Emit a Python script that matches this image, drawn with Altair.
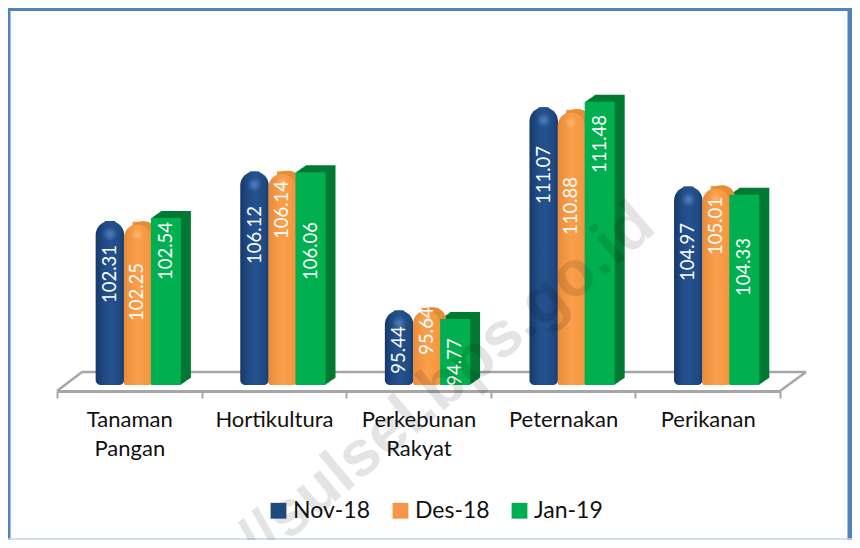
import altair as alt
import pandas as pd

categories = ["Tanaman Pangan", "Hortikultura", "Perkebunan Rakyat", "Peternakan", "Perikanan"]
series_names = ["Nov-18", "Des-18", "Jan-19"]
nov_18 = [102.31, 106.12, 95.44, 111.07, 104.97]
des_18 = [102.25, 106.14, 95.64, 110.88, 105.01]
jan_19 = [102.54, 106.06, 94.77, 111.48, 104.33]
# level on the value axis at which each rotated label is centred in the picture
nov_label_level = [98.24, 101.24, 92.39, 105.85, 99.93]
des_label_level = [96.85, 103.16, 93.85, 103.47, 101.93]
jan_label_level = [100.01, 100.01, 91.47, 108.24, 98.78]

FONT = "Lato"
BLUE, ORANGE, GREEN = "#1f497d", "#f79646", "#00b050"
FRAME = "#5282bd"
FLOOR = "#a6a6a6"
BASE = 89.7
W, H = 844, 532


def table(values, levels):
    return pd.DataFrame({"category": categories, "value": values, "level": levels})


nov_df = table(nov_18, nov_label_level)
des_df = table(des_18, des_label_level)
jan_df = table(jan_19, jan_label_level)

x_enc = alt.X(
    "category:N",
    sort=categories,
    title=None,
    scale=alt.Scale(domain=categories, range=[49, 772], paddingInner=0, paddingOuter=0),
    axis=alt.Axis(
        labelExpr="split(datum.label, ' ')",
        labelAngle=0,
        labelFont=FONT,
        labelFontSize=22,
        labelColor="#111111",
        labelPadding=11,
        labelLineHeight=29,
        labelBaseline="top",
        tickBand="extent",
        tickSize=7,
        tickWidth=2,
        tickColor=FLOOR,
        domainColor=FLOOR,
        domainWidth=3,
        grid=False,
    ),
)
y_scale = alt.Scale(domain=[BASE, 118.7], range=[377, 0], zero=False)
y_enc = alt.Y("value:Q", title=None, axis=None, scale=y_scale)
y_label = alt.Y("level:Q", title=None, axis=None, scale=y_scale)
y2_enc = alt.Y2(datum=BASE)


def solid(df, name, dx, width=10):
    return alt.Chart(df).transform_calculate(series=f"'{name}'").mark_bar(width=width, xOffset=dx).encode(
        x=x_enc,
        y=y_enc,
        y2=y2_enc,
        color=alt.Color(
            "series:N",
            title=None,
            sort=series_names,
            scale=alt.Scale(domain=series_names, range=[BLUE, ORANGE, GREEN]),
            legend=alt.Legend(
                orient="none",
                legendX=259,
                legendY=491,
                direction="horizontal",
                symbolType="square",
                symbolSize=250,
                symbolStrokeWidth=0,
                labelFont=FONT,
                labelFontSize=23,
                labelColor="#111111",
                columnPadding=18,
                labelOffset=3,
                padding=0,
            ),
        ),
    )


def bar(df, dx, width, fill, dy=0, dy2=None, **kw):
    return alt.Chart(df).mark_bar(
        width=width, xOffset=dx, yOffset=dy, y2Offset=dy if dy2 is None else dy2, color=fill, **kw
    ).encode(x=x_enc, y=y_enc, y2=y2_enc)


def glow(df, dx, inner, size):
    gradient = alt.Gradient(
        gradient="radial",
        stops=[
            alt.GradientStop(color=inner, offset=0),
            alt.GradientStop(color=inner + "00", offset=1),
        ],
    )
    return alt.Chart(df).mark_circle(size=size, xOffset=dx, yOffset=13, color=gradient, opacity=1).encode(x=x_enc, y=y_enc)


def labels(df, dx):
    return alt.Chart(df).mark_text(
        angle=270, xOffset=dx, align="center", baseline="middle", color="white", font=FONT, fontSize=18.5
    ).encode(x=x_enc, y=y_label, text=alt.Text("value:Q", format=".2f"))


def line(x, y, x2=None, y2=None, color=FLOOR, width=2.5):
    enc = {"x": alt.value(x), "y": alt.value(y)}
    if x2 is not None:
        enc["x2"] = alt.value(x2)
    if y2 is not None:
        enc["y2"] = alt.value(y2)
    return alt.Chart(pd.DataFrame({"k": [0]})).mark_rule(color=color, strokeWidth=width).encode(**enc)


DX_B, DX_O, DX_G = -19.4, 8.1, 36.6
W_B, W_O, W_G = 28.5, 27, 30

blue_grad = alt.Gradient(
    gradient="linear", x1=0, x2=1, y1=0, y2=0,
    stops=[
        alt.GradientStop(color="#17386a", offset=0),
        alt.GradientStop(color="#214c86", offset=0.3),
        alt.GradientStop(color="#24528f", offset=0.55),
        alt.GradientStop(color="#1f4a82", offset=0.85),
        alt.GradientStop(color="#183a6c", offset=1),
    ],
)
orange_grad = alt.Gradient(
    gradient="linear", x1=0, x2=1, y1=0, y2=0,
    stops=[
        alt.GradientStop(color="#e98c3a", offset=0),
        alt.GradientStop(color="#fa9f4b", offset=0.5),
        alt.GradientStop(color="#f4963f", offset=1),
    ],
)

layers = [
    line(0, 0, x2=W, color=FRAME, width=6),
    line(0, 0, y2=H, color=FRAME, width=5),
    line(W - 2, 0, y2=H, color=FRAME, width=5),
    line(0, H - 1, x2=W, color="#c6d6ea", width=1.5),
    line(74, 364, x2=798),
    line(49, 383, x2=74, y2=364),
    line(772, 383, x2=798, y2=364),
    solid(nov_df, series_names[0], DX_B),
    solid(des_df, series_names[1], DX_O),
    solid(jan_df, series_names[2], DX_G),
]
for k in range(10, 0, -1):
    layers.append(bar(jan_df, DX_G + k, W_G, "#007a33", dy=-0.7 * k))
for k in range(6, 0, -1):
    layers.append(
        bar(des_df, DX_O + k, W_O, "#e88b37", dy=-0.6 * k + 3, dy2=-0.6 * k,
            cornerRadiusTopLeft=13, cornerRadiusTopRight=13, cornerRadiusBottomRight=3)
    )
layers += [
    bar(nov_df, DX_B, W_B, blue_grad, cornerRadiusTopLeft=14, cornerRadiusTopRight=14,
        cornerRadiusBottomLeft=5, cornerRadiusBottomRight=5),
    glow(nov_df, DX_B, "#4f80bd", 220),
    bar(des_df, DX_O, W_O, orange_grad, dy=3, dy2=0, cornerRadiusTopLeft=13, cornerRadiusTopRight=13,
        cornerRadiusBottomLeft=2, cornerRadiusBottomRight=2),
    glow(des_df, DX_O, "#ffb56e", 160),
    bar(jan_df, DX_G, W_G, GREEN),
    labels(nov_df, DX_B),
    labels(des_df, DX_O),
    labels(jan_df, DX_G),
    alt.Chart(pd.DataFrame({"k": [0]})).mark_text(
        text="//sulsel.bps.go.id", angle=320, align="right", baseline="middle",
        font="Liberation Sans", fontWeight="bold", fontSize=64, color="#000000", opacity=0.1,
    ).encode(x=alt.value(638), y=alt.value(208)),
]

chart = (
    alt.layer(*layers)
    .properties(
        width=W,
        height=383,
        padding={"left": 0, "top": 0, "right": 0, "bottom": H - 383},
        autosize=alt.AutoSizeParams(type="none"),
        background="white",
    )
    .configure_view(stroke=None)
)

chart.save("out.html", embed_options={"renderer": "svg", "actions": False})
